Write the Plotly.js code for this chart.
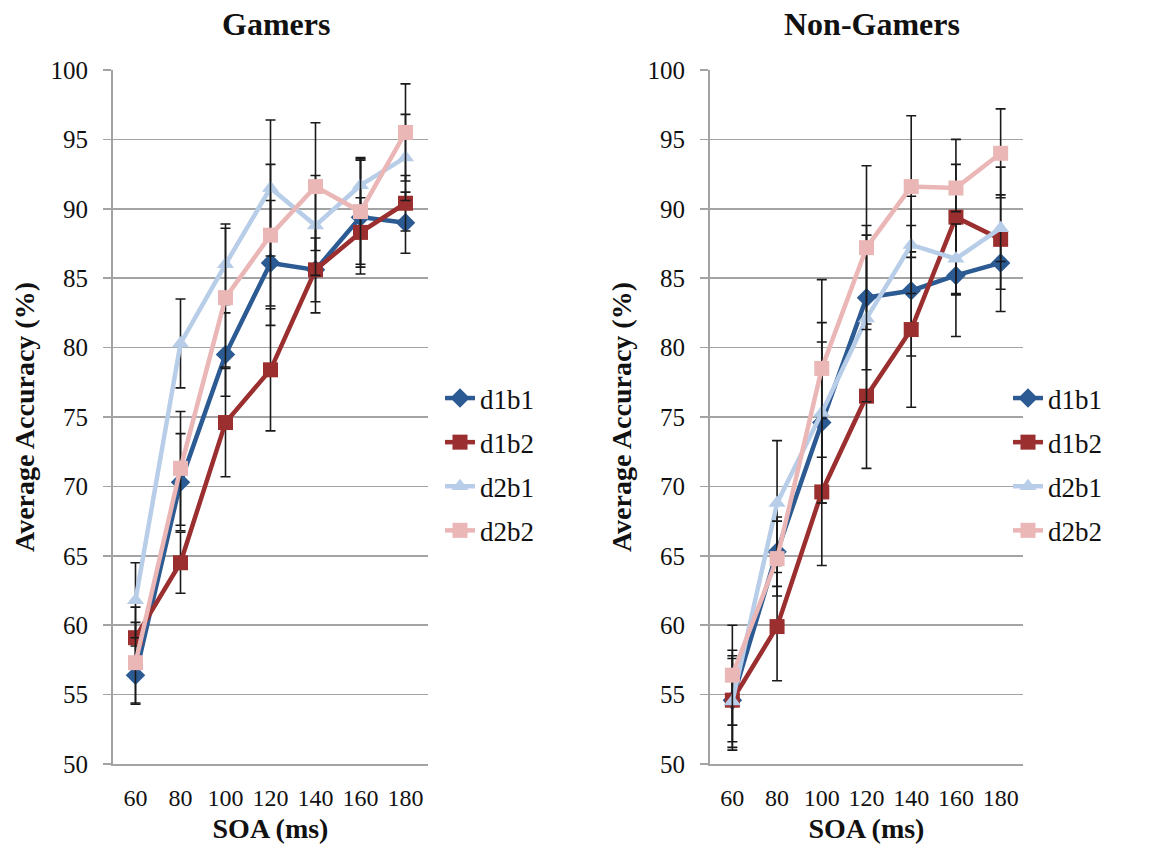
<!DOCTYPE html>
<html>
<head>
<meta charset="utf-8">
<script src="https://cdn.plot.ly/plotly-3.0.1.min.js"></script>
<style>html,body{margin:0;padding:0;background:#fff;}#chart{width:1149px;height:856px;}</style>
</head>
<body>
<div id="chart"></div>
<script>
// ---- data ----
const soa = ['60', '80', '100', '120', '140', '160', '180'];
const seriesNames = ['d1b1', 'd1b2', 'd2b1', 'd2b2'];

// Gamers
const gamers_d1b1 = [56.4, 70.3, 79.5, 86.1, 85.6, 89.4, 89.0];
const gamers_d1b2 = [59.1, 64.5, 74.6, 78.4, 85.6, 88.3, 90.4];
const gamers_d2b1 = [61.8, 80.3, 86.0, 91.5, 88.8, 91.7, 93.7];
const gamers_d2b2 = [57.3, 71.3, 83.6, 88.1, 91.6, 89.8, 95.5];
const gamers_err_d1b1 = [2.1, 3.5, 3.0, 4.5, 2.3, 4.1, 2.2];
const gamers_err_d1b2 = [2.2, 2.2, 3.9, 4.4, 3.1, 2.5, 2.0];
const gamers_err_d2b1 = [2.7, 3.2, 2.9, 4.9, 3.6, 2.0, 3.1];
const gamers_err_d2b2 = [2.9, 4.1, 5.0, 5.1, 4.6, 3.8, 3.5];

// Non-Gamers
const non_d1b1 = [54.6, 65.3, 74.6, 83.6, 84.1, 85.2, 86.1];
const non_d1b2 = [54.6, 59.9, 69.6, 76.5, 81.3, 89.4, 87.8];
const non_d2b1 = [54.5, 68.8, 75.3, 82.1, 87.4, 86.4, 88.6];
const non_d2b2 = [56.4, 64.8, 78.5, 87.2, 91.6, 91.5, 94.0];
const non_err_d1b1 = [3.0, 2.5, 5.8, 5.2, 4.7, 4.4, 1.9];
const non_err_d1b2 = [3.6, 3.9, 5.3, 5.2, 5.6, 5.6, 5.2];
const non_err_d2b1 = [3.3, 4.5, 6.5, 6.0, 3.5, 2.5, 2.4];
const non_err_d2b2 = [3.6, 2.7, 6.4, 5.9, 5.1, 1.7, 3.2];

const panelTitles = ['Gamers', 'Non-Gamers'];
const xTitle = 'SOA (ms)';
const yTitle = 'Average Accuracy (%)';

// ---- styles ----
const colors = ['#2c5a92', '#9b2e2e', '#b7cde8', '#eab6b6'];
const symbols = ['diamond', 'square', 'triangle-up', 'square'];
const msizes = [15, 15, 15, 15];
const serifBold = 'Liberation Serif';
const serifReg = 'Times New Roman';

const gamersVals = [gamers_d1b1, gamers_d1b2, gamers_d2b1, gamers_d2b2];
const gamersErrs = [gamers_err_d1b1, gamers_err_d1b2, gamers_err_d2b1, gamers_err_d2b2];
const nonVals = [non_d1b1, non_d1b2, non_d2b1, non_d2b2];
const nonErrs = [non_err_d1b1, non_err_d1b2, non_err_d2b1, non_err_d2b2];

function makeTrace(i, vals, errs, xa, ya, legend, grpPrefix) {
  return {
    type: 'scatter', mode: 'lines+markers',
    x: soa, y: vals, name: seriesNames[i],
    xaxis: xa, yaxis: ya, legend: legend,
    legendgroup: grpPrefix + i,
    line: {color: colors[i], width: 4.5},
    marker: {symbol: symbols[i], size: msizes[i], color: colors[i]},
    error_y: {type: 'data', array: errs, visible: true, color: '#1a1a1a', thickness: 1.6, width: 5},
    cliponaxis: false
  };
}

const traces = [];
for (let i = 0; i < 4; i++) traces.push(makeTrace(i, gamersVals[i], gamersErrs[i], 'x', 'y', 'legend', 'g'));
for (let i = 0; i < 4; i++) traces.push(makeTrace(i, nonVals[i], nonErrs[i], 'x2', 'y2', 'legend2', 'n'));

const W = 1149, H = 856;
const gridColor = '#a3a3a3';

function xaxis(domain) {
  return {
    domain: domain, type: 'category', range: [-0.5, 6.5],
    showgrid: false, zeroline: false,
    showline: true, linecolor: gridColor, linewidth: 1.5,
    ticks: '', ticklabelstandoff: 12,
    tickfont: {family: serifReg, size: 24},
    title: {text: xTitle, font: {family: serifBold, size: 28, weight: 'bold'}, standoff: 8},
    fixedrange: true
  };
}
function yaxis(domain, anchor) {
  return {
    domain: domain, anchor: anchor, range: [50, 100], tickvals: [50,55,60,65,70,75,80,85,90,95,100],
    showgrid: true, gridcolor: gridColor, gridwidth: 1.5, zeroline: false,
    showline: true, linecolor: gridColor, linewidth: 2,
    ticks: 'outside', ticklen: 8, tickcolor: gridColor, tickwidth: 1.5, ticklabelstandoff: 10,
    tickfont: {family: serifReg, size: 25},
    title: {text: yTitle, font: {family: serifBold, size: 28, weight: 'bold'}, standoff: 8},
    fixedrange: true
  };
}

const yDom = [1 - 764 / H, 1 - 70 / H];
const legendCommon = {
  font: {family: serifReg, size: 27},
  traceorder: 'grouped', tracegroupgap: 6, itemwidth: 30,
  bgcolor: 'rgba(0,0,0,0)', xanchor: 'left', yanchor: 'top'
};
const layout = {
  width: W, height: H,
  margin: {l: 0, r: 0, t: 0, b: 0},
  paper_bgcolor: '#fff', plot_bgcolor: '#fff',
  font: {color: '#111'},
  xaxis: Object.assign(xaxis([113 / W, 428 / W]), {anchor: 'y'}),
  yaxis: yaxis(yDom, 'x'),
  xaxis2: Object.assign(xaxis([710 / W, 1023 / W]), {anchor: 'y2'}),
  yaxis2: yaxis(yDom, 'x2'),
  legend: Object.assign({x: 440 / W, y: 1 - 374 / H}, legendCommon),
  legend2: Object.assign({x: 1008 / W, y: 1 - 374 / H}, legendCommon),
  annotations: [
    {text: panelTitles[0], xref: 'paper', yref: 'paper', x: 276 / W, y: 1 - 24 / H, xanchor: 'center', yanchor: 'middle',
     showarrow: false, font: {family: serifBold, size: 32, weight: 'bold'}},
    {text: panelTitles[1], xref: 'paper', yref: 'paper', x: 872 / W, y: 1 - 24 / H, xanchor: 'center', yanchor: 'middle',
     showarrow: false, font: {family: serifBold, size: 32, weight: 'bold'}}
  ],
  showlegend: true
};

Plotly.newPlot('chart', traces, layout, {displayModeBar: false, staticPlot: true});
</script>
</body>
</html>
